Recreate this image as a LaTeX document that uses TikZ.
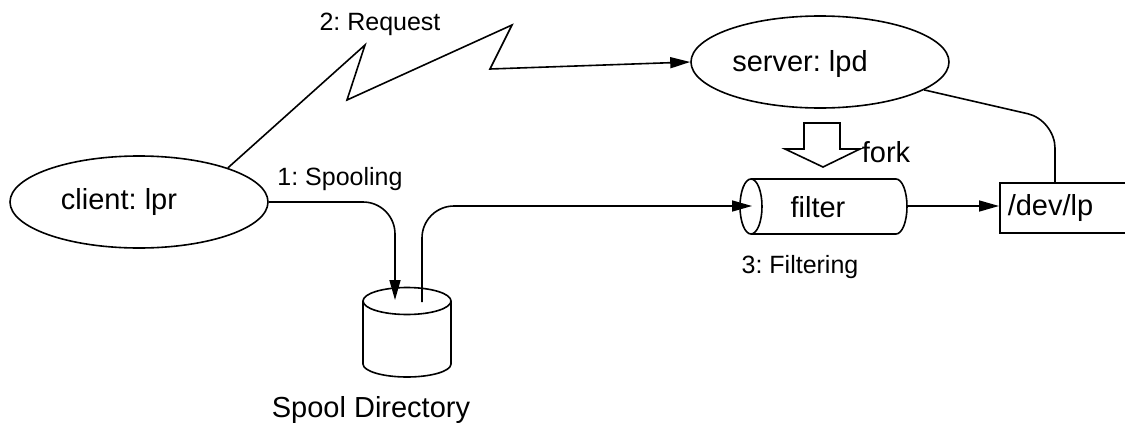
\documentclass[tikz,border=0pt]{standalone}
\usepackage{fontspec}
\setmainfont{Liberation Sans}
\frenchspacing
\usetikzlibrary{arrows.meta,shapes.geometric}
\begin{document}
\begin{tikzpicture}[x=1pt,y=-1pt,line width=1.6pt]
\tikzstyle{every node}=[font=\fontsize{29}{34}\selectfont];
\tikzstyle{proc}=[draw,ellipse,minimum width=258pt,minimum height=92pt];
\tikzstyle{steplabel}=[font=\fontsize{25}{30}\selectfont];
\tikzstyle{flow}=[-{Triangle[length=20pt,width=11pt]}];
\useasboundingbox (0,0) rectangle (1125,423);
\clip (0,0) rectangle (1125,423);
\node[proc] (client) at (139,202) {};
\node (clienttext) at (119,202) {client: lpr};
\node[proc] (server) at (820,62) {};
\node (servertext) at (800,64) {server: lpd};
\node (filter) at (818,207) {filter};
\node[draw,anchor=west,minimum height=50pt,text width=120pt,inner xsep=8pt] (lp) at (999,208) {/dev/lp};
\node (spool) at (371,410) {Spool Directory};
\node (fork) at (886,152) {fork};
\node[steplabel] (spooling) at (340,179) {1: Spooling};
\node[steplabel] (request) at (380,24) {2: Request};
\node[steplabel] (filtering) at (800,267) {3: Filtering};
\coordinate (spoolin) at (395,300);
\coordinate (spoolout) at (422,302);
\coordinate (filterin) at (752,206);
\coordinate (filterout) at (907,206);
\coordinate (lptop) at (1055,183);
\draw (363,301) -- (363,364) arc[start angle=180,end angle=360,x radius=44pt,y radius=13pt] -- (451,301);
\draw (407,301) ellipse [x radius=44pt,y radius=13.5pt];
\draw (751,206.5) ellipse [x radius=11pt,y radius=27.5pt];
\draw (751,179) -- (896,179) arc[start angle=90,end angle=-90,x radius=11pt,y radius=27.5pt] -- (751,234);
\draw (804,123) -- (840,123) -- (840,149) -- (860,149) -- (823,167) -- (785,149) -- (804,149) -- cycle;
\draw[flow] (client.21) -- (365,45) -- (347,100) -- (512,25) -- (490,69) -- (server.west);
\draw[flow,rounded corners=32pt] (client.east) -| (spoolin);
\draw[flow,rounded corners=32pt] (spoolout) |- (filterin);
\draw[flow] (filterout) -- (filterout -| lp.west);
\draw[rounded corners=28pt] (server.-15) -- (1055,120) -- (lptop);
\end{tikzpicture}
\end{document}
